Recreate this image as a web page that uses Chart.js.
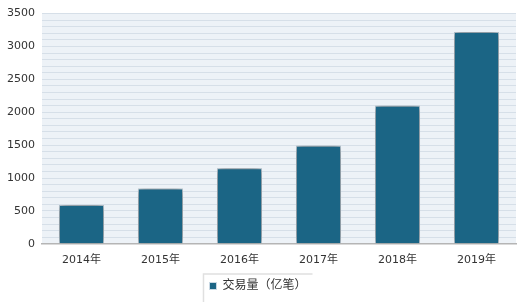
<!DOCTYPE html>
<html>
<head>
<meta charset="utf-8">
<script src="https://cdn.jsdelivr.net/npm/chart.js@4/dist/chart.umd.min.js"></script>
<style>
  html, body { margin: 0; padding: 0; background: #fff; }
</style>
</head>
<body>
<canvas id="chBar" width="520" height="302"></canvas>
<script>
// chart data
var years = ['2014年', '2015年', '2016年', '2017年', '2018年', '2019年'];
var volume = [590, 840, 1150, 1490, 2100, 3220];
var seriesName = '交易量（亿笔）';
var yTicks = [0, 500, 1000, 1500, 2000, 2500, 3000, 3500];

var barColor = '#1b6585';
var font = "'DejaVu Sans', 'Noto Sans CJK SC', sans-serif";

// light blue plot background + legend frame
var bgPlugin = {
  id: 'bg',
  beforeDraw: function (chart) {
    var a = chart.chartArea, ctx = chart.ctx;
    ctx.save();
    ctx.fillStyle = '#edf2f7';
    ctx.fillRect(a.left, a.top, a.right - a.left, a.bottom - a.top);
    ctx.restore();
  },
  afterDraw: function (chart) {
    var h = chart.legend.legendHitBoxes[0], ctx = chart.ctx;
    if (!h) return;
    var x0 = h.left - 6, y0 = h.top - 6, x1 = h.left + h.width + 6;
    ctx.save();
    ctx.strokeStyle = '#e0e0e0';
    ctx.lineWidth = 1.5;
    ctx.beginPath();
    ctx.moveTo(x0, chart.height);
    ctx.lineTo(x0, y0);
    ctx.lineTo(x1, y0);
    ctx.stroke();
    ctx.restore();
  }
};

// soft shadow behind bars
var shadowPlugin = {
  id: 'barShadow',
  beforeDatasetDraw: function (chart) {
    var ctx = chart.ctx;
    ctx.save();
    ctx.shadowColor = 'rgba(0,0,0,0.6)';
    ctx.shadowBlur = 8;
    ctx.shadowOffsetX = 0;
    ctx.shadowOffsetY = 0;
  },
  afterDatasetDraw: function (chart) {
    chart.ctx.restore();
  }
};

new Chart(document.getElementById('chBar'), {
  type: 'bar',
  data: {
    labels: years,
    datasets: [{
      label: seriesName,
      data: volume,
      backgroundColor: barColor,
      borderColor: '#c9d9e4',
      borderWidth: 1,
      categoryPercentage: 1,
      barPercentage: 0.57
    }]
  },
  options: {
    responsive: false,
    animation: false,
    layout: { padding: { left: 0, right: 4, top: 3, bottom: 0 } },
    plugins: {
      legend: {
        position: 'bottom',
        labels: {
          boxWidth: 7, boxHeight: 7, padding: 3,
          color: '#333', font: { family: font, size: 12 }
        }
      },
      tooltip: { enabled: false }
    },
    scales: {
      x: {
        grid: { display: false, drawTicks: false },
        border: { color: '#b5b5b5', width: 1.5 },
        ticks: { color: '#333', padding: 10, maxRotation: 0, font: { family: font, size: 11 } }
      },
      y: {
        min: 0,
        max: 3500,
        afterBuildTicks: function (axis) {
          var t = [];
          for (var v = 0; v <= 3500; v += 100) t.push({ value: v });
          axis.ticks = t;
        },
        grid: { color: '#d6dfe8', lineWidth: 1, drawTicks: false },
        border: { display: false },
        ticks: {
          autoSkip: false,
          padding: 7,
          color: '#333',
          font: { family: font, size: 11 },
          callback: function (v) { return yTicks.indexOf(v) >= 0 ? v : ''; }
        }
      }
    }
  },
  plugins: [bgPlugin, shadowPlugin]
});
</script>
</body>
</html>
